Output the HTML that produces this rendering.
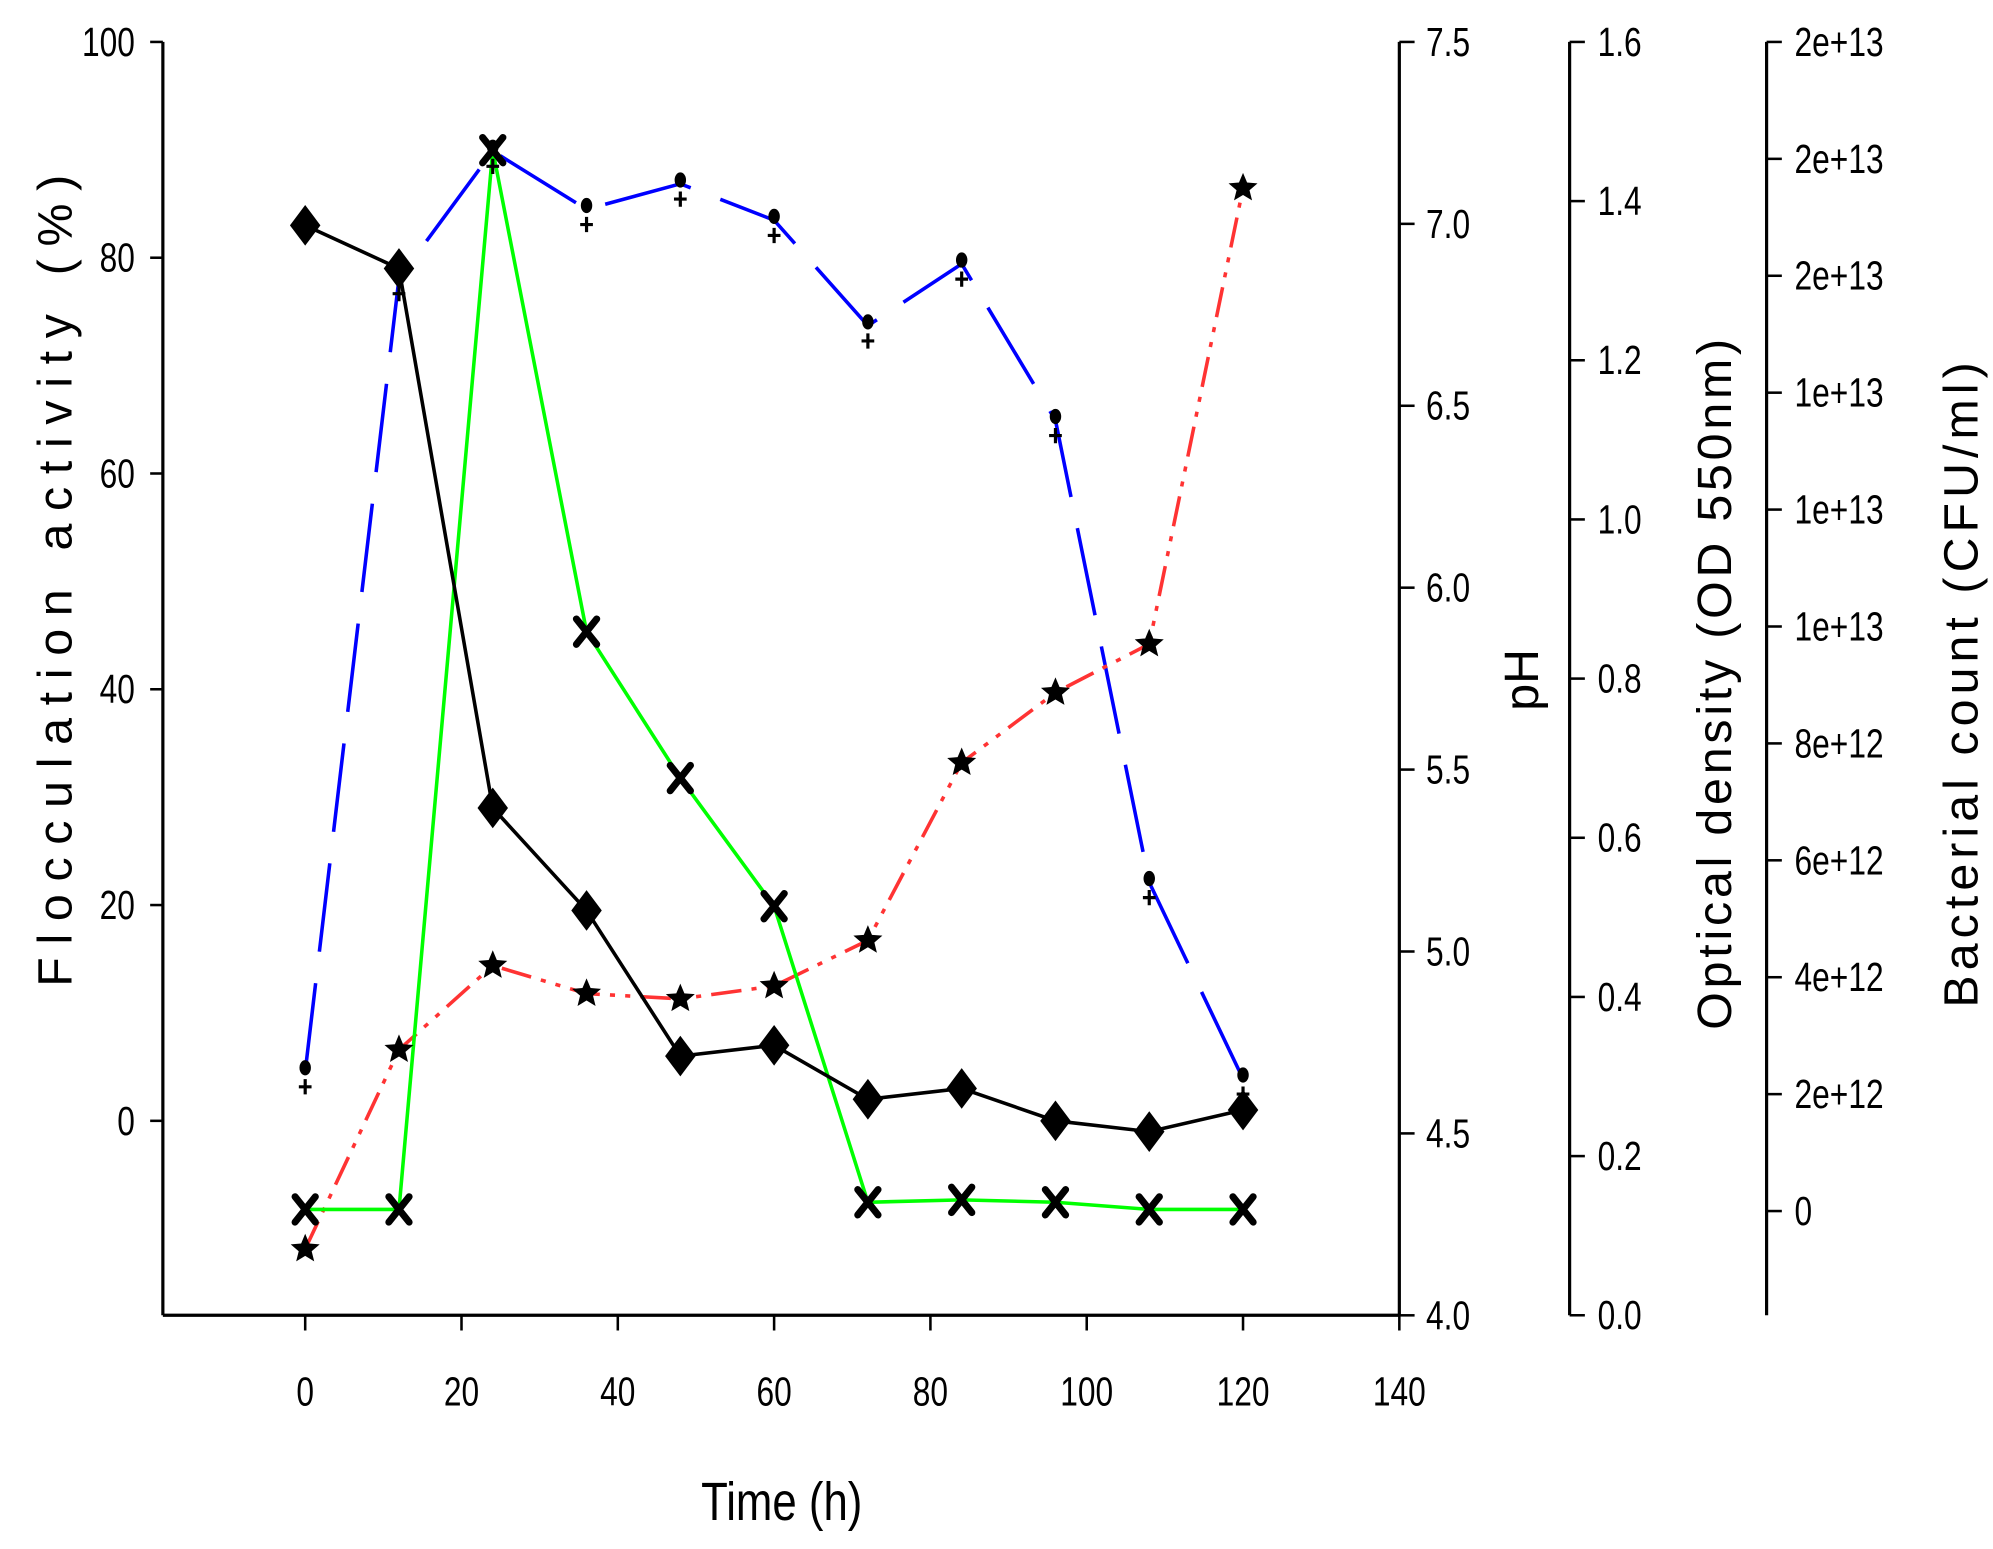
<!DOCTYPE html>
<html><head><meta charset="utf-8"><style>
html,body{margin:0;padding:0;background:#fff;}
svg text{font-family:"Liberation Sans Narrow","Liberation Sans",sans-serif;fill:#000;}
</style></head><body>
<svg id="chart" width="1993" height="1544" viewBox="0 0 1568 1215" xmlns="http://www.w3.org/2000/svg">
<g id="axes"></g>
<g id="series"></g>
<text x="615" y="1196" font-size="42" text-anchor="middle" transform="translate(615 0) scale(0.82 1) translate(-615 0)">Time (h)</text>
<text x="0" y="0" font-size="38" text-anchor="middle" letter-spacing="10" transform="translate(56 452) rotate(-90)">Flocculation activity (%)</text>
<text x="0" y="0" font-size="38" text-anchor="middle" transform="translate(1210 535) rotate(-90)">pH</text>
<text x="0" y="0" font-size="38" text-anchor="middle" letter-spacing="3" transform="translate(1362 537) rotate(-90)">Optical density (OD 550nm)</text>
<text x="0" y="0" font-size="38" text-anchor="middle" letter-spacing="4" transform="translate(1556 537) rotate(-90)">Bacterial count (CFU/ml)</text>
</svg>
<script>
const times=[0,12,24,36,48,60,72,84,96,108,120];
const floc=[83,79,29,19.5,6,7,2,3,0,-1,1];
const phVals=[4.67,6.85,7.20,7.04,7.11,7.01,6.72,6.89,6.46,5.19,4.65];
const odVals=[0.133,0.133,1.464,0.859,0.675,0.514,0.142,0.145,0.142,0.133,0.133];
const bactVals=[-0.65,2.76,4.2,3.72,3.63,3.85,4.63,7.67,8.87,9.7,17.5];
const xTicks=[0,20,40,60,80,100,120,140];
const flocTicks=[0,20,40,60,80,100];
const phTicks=[4.0,4.5,5.0,5.5,6.0,6.5,7.0,7.5];
const odTicks=[0.0,0.2,0.4,0.6,0.8,1.0,1.2,1.4,1.6];
const bactTicks=[0,2,4,6,8,10,12,14,16,18,20];
const bactLabels=["0","2e+12","4e+12","6e+12","8e+12","1e+13","1e+13","1e+13","2e+13","2e+13","2e+13"];

const X=v=>240+v*(861/140);
const Yf=v=>882-v*8.49;
const Yph=v=>33+(7.5-v)*286.3;
const Yod=v=>1035-v*626.25;
const Yb=v=>953-v*46;
const NS="http://www.w3.org/2000/svg";
const axes=document.getElementById('axes');
const ser=document.getElementById('series');
function mk(tag,attrs,parent){const e=document.createElementNS(NS,tag);for(const k in attrs)e.setAttribute(k,attrs[k]);parent.appendChild(e);return e;}
function txt(s,x,y,anchor,parent){const t=mk('text',{x:x,y:y,'font-size':32,'text-anchor':anchor,transform:`translate(${x} 0) scale(0.78 1) translate(${-x} 0)`},parent);t.textContent=s;return t;}

let a=mk('line',{x1:128,y1:33,x2:128,y2:1035,stroke:'#000','stroke-width':2.5},axes);


flocTicks.forEach(v=>{mk('line',{x1:118,y1:Yf(v),x2:128,y2:Yf(v),stroke:'#000','stroke-width':2},axes);
 const t=txt(String(v),106,Yf(v)+11,'end',axes);
 
 });
a=mk('line',{x1:128,y1:1035,x2:1101,y2:1035,stroke:'#000','stroke-width':2.5},axes);


xTicks.forEach(v=>{mk('line',{x1:X(v),y1:1035,x2:X(v),y2:1047,stroke:'#000','stroke-width':2},axes);
 const t=txt(String(v),X(v),1106,'middle',axes);
 
 });
a=mk('line',{x1:1101,y1:33,x2:1101,y2:1035,stroke:'#000','stroke-width':2.5},axes);


phTicks.forEach(v=>{mk('line',{x1:1101,y1:Yph(v),x2:1113,y2:Yph(v),stroke:'#000','stroke-width':2},axes);
 const t=txt(v.toFixed(1),1122,Yph(v)+11,'start',axes);
 
 });
a=mk('line',{x1:1235,y1:33,x2:1235,y2:1035,stroke:'#000','stroke-width':2.5},axes);


odTicks.forEach(v=>{mk('line',{x1:1235,y1:Yod(v),x2:1247,y2:Yod(v),stroke:'#000','stroke-width':2},axes);
 const t=txt(v.toFixed(1),1257,Yod(v)+11,'start',axes);
 
 });
a=mk('line',{x1:1390,y1:33,x2:1390,y2:1035,stroke:'#000','stroke-width':2.5},axes);


bactTicks.forEach((v,i)=>{mk('line',{x1:1390,y1:Yb(v),x2:1402,y2:Yb(v),stroke:'#000','stroke-width':2},axes);
 const t=txt(bactLabels[i],1412,Yb(v)+11,'start',axes);
 
 });

function line(vals,Yfn,color,dash,name){
 const p=mk('polyline',{points:vals.map((v,i)=>X(times[i])+','+Yfn(v)).join(' '),fill:'none',stroke:color,'stroke-width':2.8,'stroke-dasharray':dash||'none'},ser);
 
 
}
line(phVals,Yph,'#0000ff','70,25','ph-line');
line(bactVals,Yb,'#ff3333','24,8,4,8,4,8','bacterial-count-line');
line(odVals,Yod,'#00ff00',null,'optical-density-line');
line(floc,Yf,'#000',null,'flocculation-line');

function star(cx,cy,r){let pts=[];for(let k=0;k<10;k++){const rr=k%2?r*0.45:r;const ang=-Math.PI/2+k*Math.PI/5;pts.push((cx+rr*Math.cos(ang)).toFixed(1)+','+(cy+rr*Math.sin(ang)).toFixed(1));}return pts.join(' ');}
phVals.forEach((v,i)=>{
 const c=mk('ellipse',{cx:X(times[i]),cy:Yph(v)-3,rx:4.5,ry:6,fill:'#000'},ser);
 
 
 const p=mk('path',{d:`M${X(times[i])-5},${Yph(v)+12}h10M${X(times[i])},${Yph(v)+6}v12`,stroke:'#000','stroke-width':2.5},ser);
 
 
});
bactVals.forEach((v,i)=>{
 const s=mk('polygon',{points:star(X(times[i]),Yb(v),12),fill:'#000'},ser);
 
 
});
odVals.forEach((v,i)=>{
 const x=X(times[i]),y=Yod(v);
 const m=mk('path',{d:`M${x-8},${y-10}L${x+8},${y+10}M${x+8},${y-10}L${x-8},${y+10}`,stroke:'#000','stroke-width':5.5,'stroke-linecap':'round'},ser);
 
 
});
floc.forEach((v,i)=>{
 const x=X(times[i]),y=Yf(v);
 const d=mk('polygon',{points:`${x},${y-16} ${x+12},${y} ${x},${y+16} ${x-12},${y}`,fill:'#000'},ser);
 
 
});
</script>
</body></html>
